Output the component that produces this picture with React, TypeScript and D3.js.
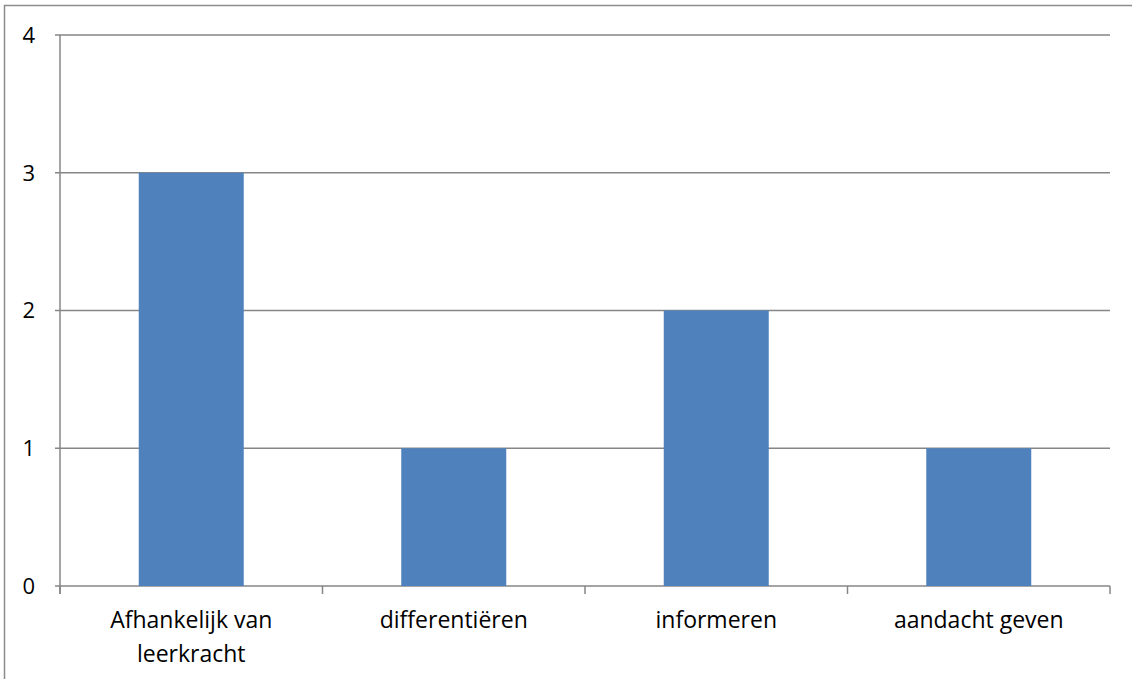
import React, { useRef, useEffect } from 'react';
import * as d3 from 'd3';

const categories = ['Afhankelijk van leerkracht', 'differentiëren', 'informeren', 'aandacht geven'];
const labelLines = [['Afhankelijk van', 'leerkracht'], ['differentiëren'], ['informeren'], ['aandacht geven']];
const values = [3, 1, 2, 1];
const yTicks = [0, 1, 2, 3, 4];

const App: React.FC = () => {
  const svgRef = useRef<SVGSVGElement | null>(null);

  useEffect(() => {
    if (!svgRef.current) return;
    document.body.style.margin = '0';
    const width = 1132;
    const height = 679;
    const margin = { top: 35, right: 22, bottom: 93, left: 60 };
    const font = '"Open Sans", "Noto Sans", sans-serif';

    const svg = d3.select(svgRef.current).attr('width', width).attr('height', height);
    svg.selectAll('*').remove();

    // outer frame
    svg
      .append('rect')
      .attr('x', 4.5)
      .attr('y', 5.5)
      .attr('width', width + 10)
      .attr('height', height + 10)
      .attr('fill', 'white')
      .attr('stroke', '#8c8c8c')
      .attr('stroke-width', 1.5);

    const x = d3
      .scaleBand()
      .domain(categories)
      .range([margin.left, width - margin.right])
      .paddingInner(0.6)
      .paddingOuter(0.3);

    const y = d3
      .scaleLinear()
      .domain([0, 4])
      .range([height - margin.bottom, margin.top]);

    const grid = '#868686';

    // gridlines + y ticks
    svg
      .append('g')
      .selectAll('line')
      .data(yTicks)
      .enter()
      .append('line')
      .attr('x1', margin.left - 5)
      .attr('x2', width - margin.right)
      .attr('y1', d => y(d))
      .attr('y2', d => y(d))
      .attr('stroke', grid)
      .attr('stroke-width', 1.5);

    // y axis line
    svg
      .append('line')
      .attr('x1', margin.left)
      .attr('x2', margin.left)
      .attr('y1', y(4))
      .attr('y2', y(0) + 8)
      .attr('stroke', grid)
      .attr('stroke-width', 1.5);

    // x ticks at category boundaries
    const step = x.step();
    const bounds = d3.range(categories.length + 1).map(i => margin.left + i * step);
    svg
      .append('g')
      .selectAll('line')
      .data(bounds)
      .enter()
      .append('line')
      .attr('x1', d => d)
      .attr('x2', d => d)
      .attr('y1', y(0))
      .attr('y2', y(0) + 8)
      .attr('stroke', grid)
      .attr('stroke-width', 1.5);

    // y labels
    svg
      .append('g')
      .selectAll('text')
      .data(yTicks)
      .enter()
      .append('text')
      .attr('x', 35)
      .attr('y', d => y(d))
      .attr('dy', '0.36em')
      .attr('text-anchor', 'end')
      .attr('font-family', font)
      .attr('font-size', 22)
      .attr('fill', '#000')
      .text(d => d);

    // bars
    svg
      .append('g')
      .selectAll('rect')
      .data(values)
      .enter()
      .append('rect')
      .attr('x', (d, i) => x(categories[i])!)
      .attr('y', d => y(d))
      .attr('width', x.bandwidth())
      .attr('height', d => y(0) - y(d))
      .attr('fill', '#4F81BD');

    // x labels
    const lab = svg
      .append('g')
      .selectAll('text')
      .data(labelLines)
      .enter()
      .append('text')
      .attr('x', (d, i) => x(categories[i])! + x.bandwidth() / 2)
      .attr('y', 628)
      .attr('text-anchor', 'middle')
      .attr('font-family', font)
      .attr('font-size', 23)
      .attr('fill', '#000');
    lab
      .selectAll('tspan')
      .data(d => d)
      .enter()
      .append('tspan')
      .attr('x', function () {
        return (this.parentNode as SVGTextElement).getAttribute('x');
      })
      .attr('dy', (d, i) => (i === 0 ? 0 : 33.5))
      .text(d => d);
  }, []);

  return <svg ref={svgRef} style={{ display: 'block' }}></svg>;
};

export default App;
